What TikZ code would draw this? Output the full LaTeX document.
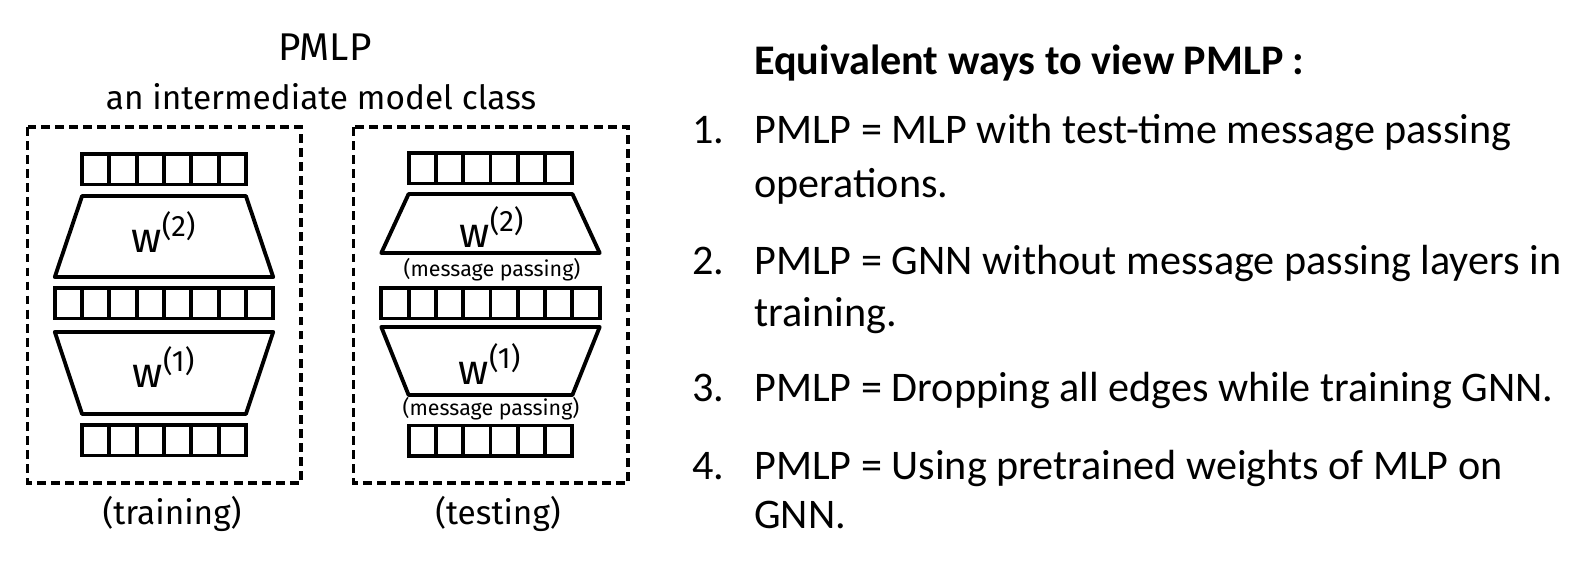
\documentclass[tikz,border=0pt]{standalone}
\usepackage{fontspec}
\setmainfont{Carlito}
\newfontfamily\handfont{Fira Sans}
\usetikzlibrary{positioning}
\tikzset{
  cell/.style={draw=black, line width=2.2pt},
  layer/.style={draw=black, line width=2.2pt, line join=round},
  dashbox/.style={draw=black, line width=1.8pt, dash pattern=on 5pt off 3pt},
  hand/.style={font=\handfont\fontsize{19}{22}\selectfont, inner sep=0pt},
  wlabel/.style={font=\handfont\fontsize{24}{28}\selectfont, inner sep=0pt},
  mp/.style={font=\handfont\fontsize{12.2}{14}\selectfont, inner sep=0pt},
  item/.style={font=\fontsize{24}{28}\selectfont, anchor=base west, inner sep=0pt}
}

\begin{document}
\begin{tikzpicture}[x=0.02cm, y=-0.02cm]
  \useasboundingbox (0,0) rectangle (1582,564);

  % titles
  \node[hand, font=\handfont\fontsize{22}{26}\selectfont] (title) at (325,47) {PMLP};
  \node[hand] (subtitle) at (321,97) {an intermediate model class};

  % dashed frames
  \draw[dashbox] (27.5,127) rectangle (301,483);
  \draw[dashbox] (353.5,127) rectangle (628,483);

  % feature rows
  \foreach \cx/\cy/\n in {164/154/6, 164/288/8, 164/425/6, 490.5/153/6, 490.5/288/8, 490.5/425.5/6}
    \foreach \i in {1,...,\n}
      \draw[cell] ({\cx-\n*13.65+(\i-1)*27.3},\cy) rectangle ++(27.3,30.5);

  % weight layers (training)
  \draw[layer] (82.1,196) -- (245.9,196) -- (273.2,277) -- (54.8,277) -- cycle;
  \draw[layer] (54.8,332) -- (273.2,332) -- (245.9,414) -- (82.1,414) -- cycle;
  % weight layers (testing)
  \draw[layer] (408.6,194) -- (572.4,194) -- (599.7,253) -- (381.3,253) -- cycle;
  \draw[layer] (381.3,327) -- (599.7,327) -- (572.4,395) -- (408.6,395) -- cycle;

  \node[wlabel] (w2train) at (164,232) {w\textsuperscript{(2)}};
  \node[wlabel] (w1train) at (164,367) {w\textsuperscript{(1)}};
  \node[wlabel] (w2test) at (492,227) {w\textsuperscript{(2)}};
  \node[wlabel] (w1test) at (490,364) {w\textsuperscript{(1)}};
  \node[mp] (mp2) at (492,270) {(message passing)};
  \node[mp] (mp1) at (491,409) {(message passing)};

  \node[hand] (train) at (172,514) {(training)};
  \node[hand] (test) at (498,514) {(testing)};

  % right-hand list
  \node[item, font=\bfseries\fontsize{24}{28}\selectfont] (head) at (754,75) {Equivalent ways to view PMLP :};
  \node[item] (n1) at (692,144) {1.};
  \node[item] (t1a) at (754,144) {PMLP = MLP with test-time message passing};
  \node[item] (t1b) at (754,198) {operations.};
  \node[item] (n2) at (692,275) {2.};
  \node[item] (t2a) at (754,275) {PMLP = GNN without message passing layers in};
  \node[item] (t2b) at (754,326) {training.};
  \node[item] (n3) at (692,401) {3.};
  \node[item] (t3a) at (754,401) {PMLP = Dropping all edges while training GNN.};
  \node[item] (n4) at (692,479) {4.};
  \node[item] (t4a) at (754,479) {PMLP = Using pretrained weights of MLP on};
  \node[item] (t4b) at (754,528) {GNN.};
\end{tikzpicture}
\end{document}
